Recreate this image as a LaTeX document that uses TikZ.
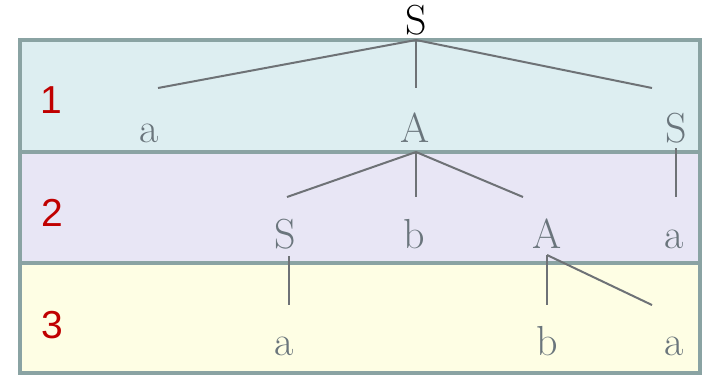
\documentclass[tikz,border=0pt]{standalone}
\usepackage{fontspec}
\newfontfamily\numfont{Liberation Sans}
\definecolor{bordc}{HTML}{8AA3A3}
\definecolor{fillA}{HTML}{DDEEF1}
\definecolor{fillB}{HTML}{E8E6F5}
\definecolor{fillC}{HTML}{FEFEE4}
\definecolor{edgec}{HTML}{6E7276}
\definecolor{symc}{HTML}{6A757C}
\definecolor{numc}{HTML}{C00000}
\tikzset{
  band/.style={draw=bordc, line width=4pt},
  sym/.style={text=symc, font=\fontsize{42}{42}\selectfont, anchor=base, inner sep=0pt},
  rootsym/.style={text=black, font=\fontsize{42}{42}\selectfont, anchor=base, inner sep=0pt},
  num/.style={text=numc, font=\numfont\fontsize{39}{39}\selectfont, anchor=base, inner sep=0pt},
  edge/.style={draw=edgec, line width=2pt},
}
\begin{document}
\begin{tikzpicture}[x=1pt,y=-1pt]
\useasboundingbox (0,0) rectangle (706,375);
% bands
\path[band, fill=fillA] (20,40) rectangle (700,152);
\path[band, fill=fillB] (20,152) rectangle (700,263);
\path[band, fill=fillC] (20,263) rectangle (700,373);
% numbers
\node[num] (n1) at (51,113) {1};
\node[num] (n2) at (52,226) {2};
\node[num] (n3) at (52,338) {3};
% symbols
\node[rootsym] (r) at (416,34) {S};
\coordinate (rb) at (416,40);
\node[sym] (a1) at (149,142) {a};
\node[sym] (A1) at (415,142) {A};
\node[sym] (S1) at (676,142) {S};
\coordinate (A1b) at (416,152);
\node[sym] (S2) at (285,248) {S};
\node[sym] (b2) at (414,248) {b};
\node[sym] (A2) at (547,248) {A};
\node[sym] (a2) at (674,248) {a};
\node[sym] (a3) at (284,355) {a};
\node[sym] (b3) at (547,355) {b};
\node[sym] (a4) at (674,355) {a};
% edge end points
\coordinate (e1a) at (158,88);
\coordinate (e1b) at (416,88);
\coordinate (e1c) at (652,88);
\coordinate (e2a) at (287,197);
\coordinate (e2b) at (416,197);
\coordinate (e2c) at (523,197);
\coordinate (s1t) at (676,148);
\coordinate (e2d) at (676,197);
\coordinate (s2t) at (289,256);
\coordinate (e3a) at (289,305);
\coordinate (A2t) at (547,255);
\coordinate (e3b) at (547,305);
\coordinate (e3c) at (652,305);
% edges
\draw[edge] (rb) -- (e1a);
\draw[edge] (rb) -- (e1b);
\draw[edge] (rb) -- (e1c);
\draw[edge] (A1b) -- (e2a);
\draw[edge] (A1b) -- (e2b);
\draw[edge] (A1b) -- (e2c);
\draw[edge] (s1t) -- (e2d);
\draw[edge] (s2t) -- (e3a);
\draw[edge] (A2t) -- (e3b);
\draw[edge] (A2t) -- (e3c);
\end{tikzpicture}
\end{document}
